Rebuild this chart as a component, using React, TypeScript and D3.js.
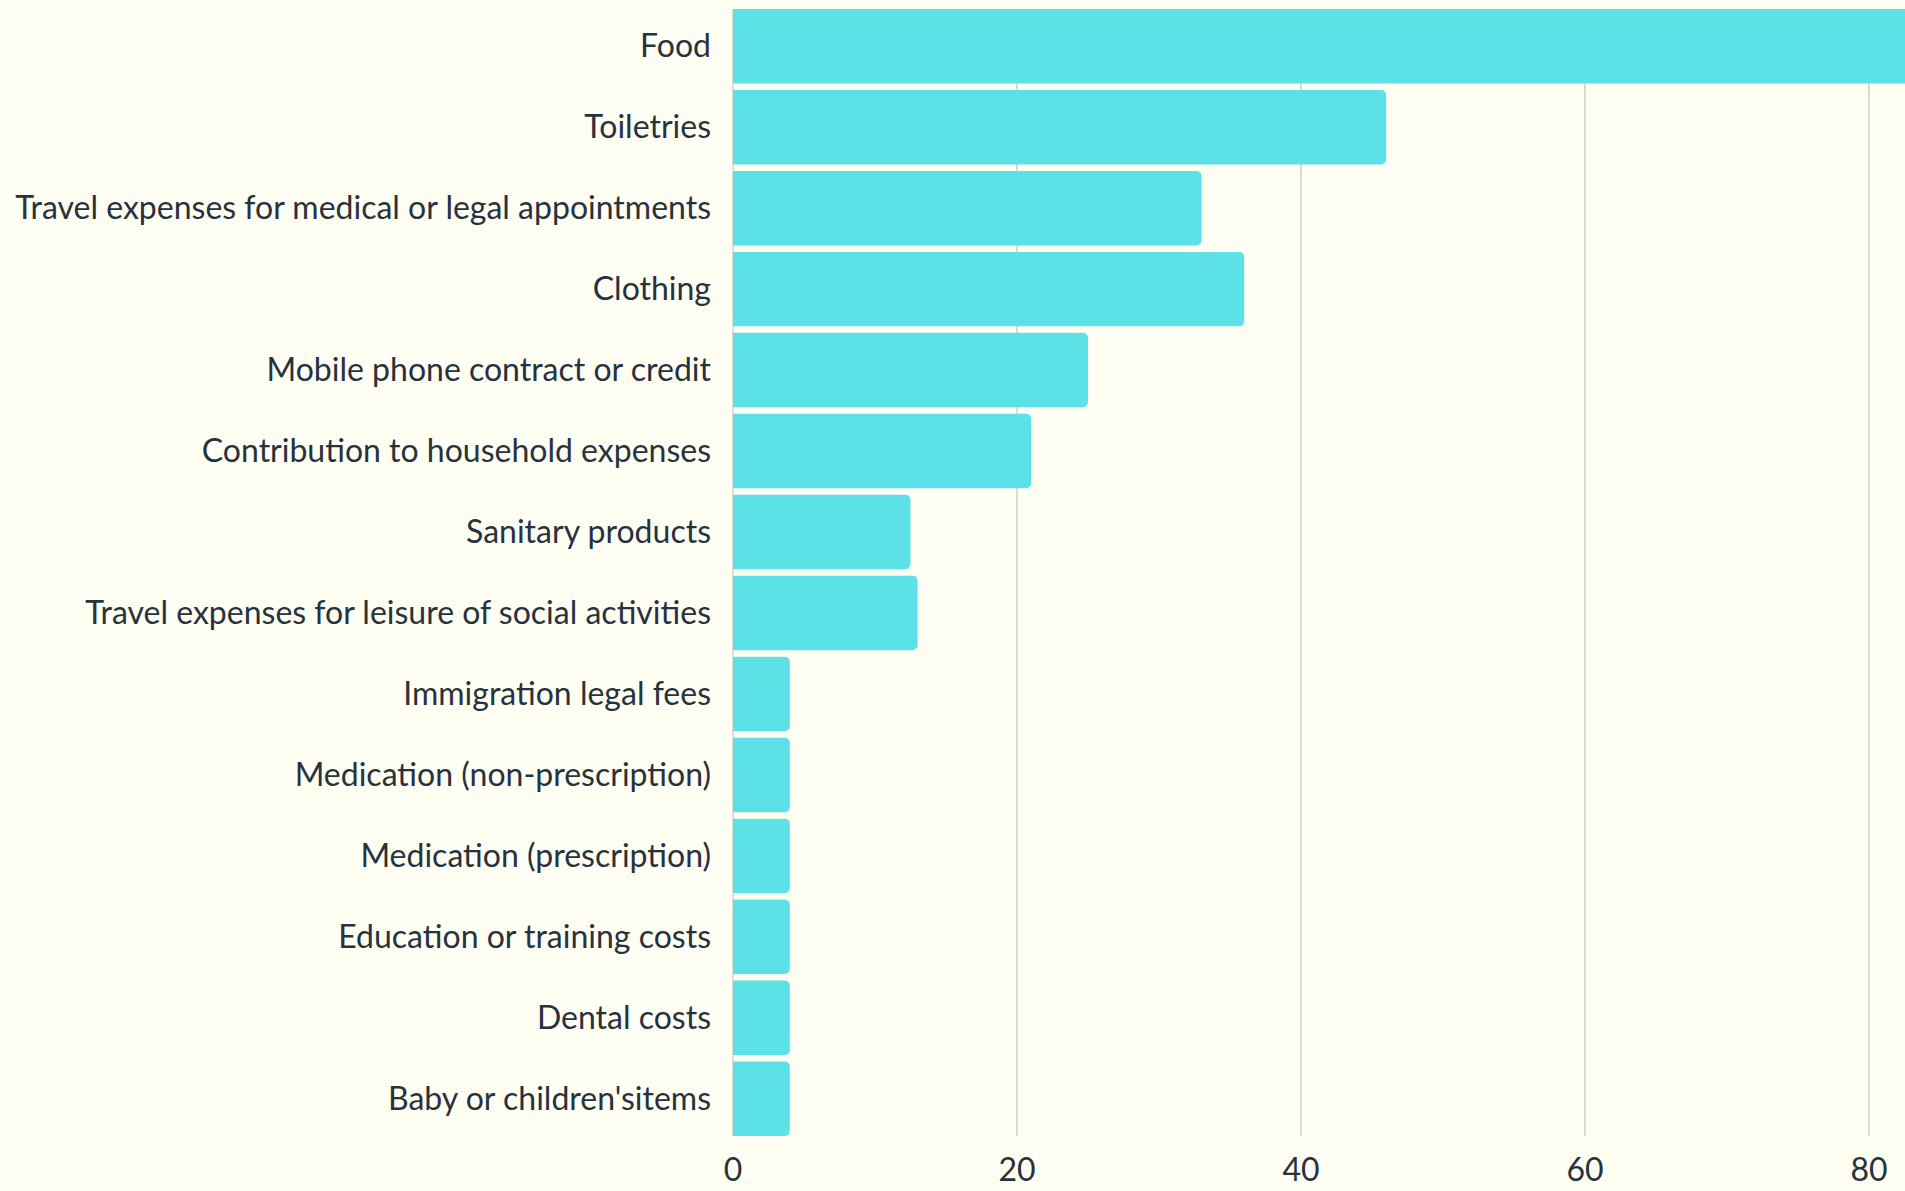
import React from "react";
import * as d3 from "d3";

const categories = [
  "Food",
  "Toiletries",
  "Travel expenses for medical or legal appointments",
  "Clothing",
  "Mobile phone contract or credit",
  "Contribution to household expenses",
  "Sanitary products",
  "Travel expenses for leisure of social activities",
  "Immigration legal fees",
  "Medication (non-prescription)",
  "Medication (prescription)",
  "Education or training costs",
  "Dental costs",
  "Baby or children'sitems",
];
const values = [88, 46, 33, 36, 25, 21, 12.5, 13, 4, 4, 4, 4, 4, 4];
const xTicks = [0, 20, 40, 60, 80];

const W = 1905;
const H = 1191;
const FONT = "Lato, 'Noto Sans', sans-serif";

function roundRightRect(x0: number, y0: number, w: number, h: number, r: number) {
  const rr = Math.min(r, w / 2, h / 2);
  const p = d3.path();
  p.moveTo(x0, y0);
  p.lineTo(x0 + w - rr, y0);
  p.arcTo(x0 + w, y0, x0 + w, y0 + rr, rr);
  p.lineTo(x0 + w, y0 + h - rr);
  p.arcTo(x0 + w, y0 + h, x0 + w - rr, y0 + h, rr);
  p.lineTo(x0, y0 + h);
  p.closePath();
  return p.toString();
}

export default function App() {
  const x = d3.scaleLinear().domain([0, 80]).range([733, 1869]);
  const y = d3
    .scaleBand<string>()
    .domain(categories)
    .range([9, 1136])
    .paddingInner(0.08)
    .paddingOuter(0);
  const gridTop = 9;
  const gridBottom = 1136;

  return (
    <svg
      width={W}
      height={H}
      style={{ position: "fixed", left: 0, top: 0, background: "#fefef2" }}
    >
      <rect x={0} y={0} width={W} height={H} fill="#fefef2" />
      {xTicks.slice(1).map((t) => (
        <line
          key={"g" + t}
          x1={x(t)}
          x2={x(t)}
          y1={gridTop}
          y2={gridBottom}
          stroke="#cfcfca"
          strokeWidth={1.5}
        />
      ))}
      <line x1={x(0)} x2={x(0)} y1={gridTop} y2={gridBottom} stroke="#d4d4cc" strokeWidth={1.5} />
      {categories.map((c, i) => {
        const by = y(c) as number;
        return (
          <g key={c}>
            <path
              d={roundRightRect(x(0), by, x(values[i]) - x(0), y.bandwidth(), 5)}
              fill="#5ce1e6"
            />
            <text
              x={x(0) - 22}
              y={by + y.bandwidth() / 2}
              dy="0.35em"
              textAnchor="end"
              fontFamily={FONT}
              fontSize={32}
              fill="#28323e"
            >
              {c}
            </text>
          </g>
        );
      })}
      {xTicks.map((t) => (
        <text
          key={"t" + t}
          x={x(t)}
          y={1181}
          textAnchor="middle"
          fontFamily={FONT}
          fontSize={32}
          fill="#28323e"
        >
          {t}
        </text>
      ))}
    </svg>
  );
}
